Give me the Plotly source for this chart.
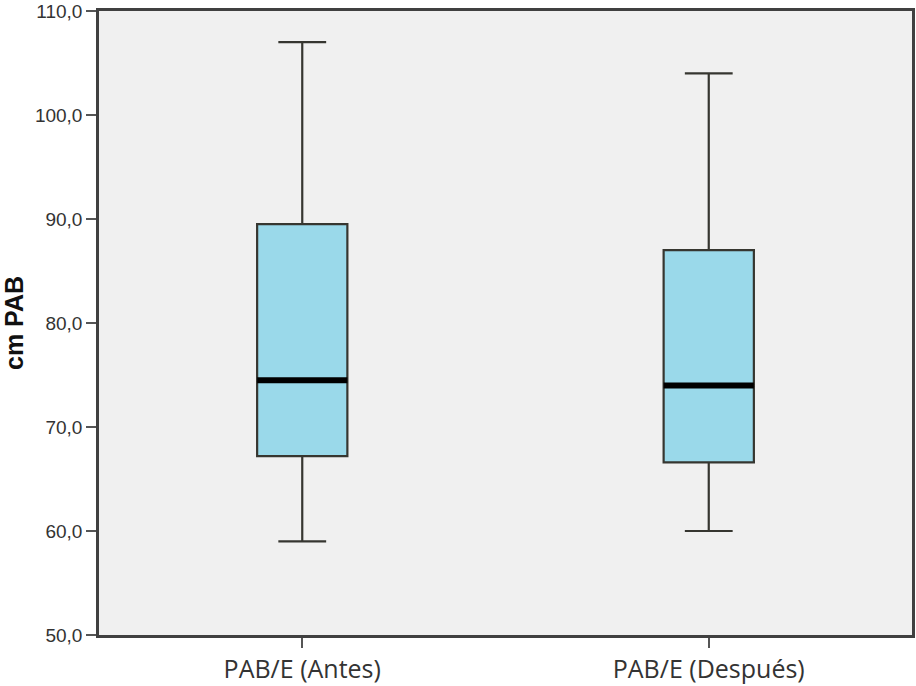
import plotly.graph_objects as go

categories = ["PAB/E (Antes)", "PAB/E (Después)"]
lower = [59.0, 60.0]
q1 = [67.2, 66.6]
median = [74.5, 74.0]
q3 = [89.5, 87.0]
upper = [107.0, 104.0]
y_ticks = [50, 60, 70, 80, 90, 100, 110]

BOX_W = 0.222
xs = list(range(len(categories)))

fig = go.Figure()
fig.add_trace(go.Box(
    x=xs, q1=q1, median=median, q3=q3, lowerfence=lower, upperfence=upper,
    width=BOX_W, whiskerwidth=0.53,
    fillcolor="#9AD9EA", line=dict(color="#363630", width=2.2),
    boxpoints=False, showlegend=False, hoverinfo="skip",
))
for i, m in zip(xs, median):
    fig.add_trace(go.Scatter(
        x=[i - BOX_W / 2, i + BOX_W / 2], y=[m, m], mode="lines",
        line=dict(color="black", width=6), showlegend=False, hoverinfo="skip",
    ))

fig.update_layout(
    width=916, height=686,
    margin=dict(l=99, r=1, t=8, b=50),
    paper_bgcolor="white", plot_bgcolor="#F0F0F0",
    separators=",.",
    font=dict(family="Liberation Sans, Arial, sans-serif", color="#222"),
)
fig.update_xaxes(
    range=[-0.5, 1.5], tickvals=xs, ticktext=categories,
    tickfont=dict(family="Open Sans, Noto Sans, sans-serif", size=25, color="#333"),
    showgrid=False, zeroline=False,
    showline=True, linecolor="#404040", linewidth=2.5, mirror=True,
    ticks="outside", ticklen=10, tickcolor="#555", tickwidth=2,
)
fig.update_yaxes(
    range=[50, 110], tickvals=y_ticks, tickformat=".1f",
    tickfont=dict(size=19, color="#333"),
    ticklabeloverflow="allow",
    title=dict(text="<b>cm PAB</b>", font=dict(size=25, color="#111"), standoff=6),
    showgrid=False, zeroline=False,
    showline=True, linecolor="#404040", linewidth=2.5, mirror=True,
    ticks="outside", ticklen=10, tickcolor="#555", tickwidth=2,
)

fig.write_html(
    "out.html",
    config={"displayModeBar": False},
    post_script="document.body.style.margin='0';document.body.style.overflow='hidden';",
)
